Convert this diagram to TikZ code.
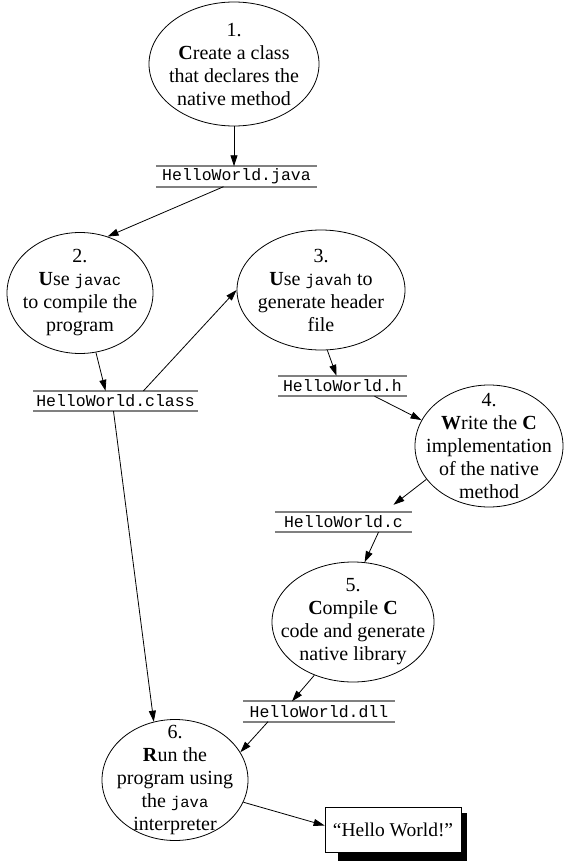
\documentclass[tikz,border=0pt]{standalone}
\usepackage{fontspec}
\setmainfont{Liberation Serif}
\setmonofont{Liberation Mono}
\usetikzlibrary{shapes.geometric,arrows.meta,backgrounds}
\newcommand{\prog}[1]{{\fontsize{15.5}{23}\selectfont\ttfamily #1}}

\begin{document}
\begin{tikzpicture}[x=1pt,y=-1pt,every text node part/.style={align=center},
stage/.style={ellipse,draw,line width=0.8pt,inner sep=-20pt,font=\fontsize{20}{23}\selectfont},
rule/.style={draw=black!50,line width=1.8pt},
source/.style={inner sep=0pt,minimum height=20pt,font=\fontsize{16.5}{20}\selectfont\ttfamily,append after command={(\tikzlastnode.north west) edge[rule] (\tikzlastnode.north east) (\tikzlastnode.south west) edge[rule] (\tikzlastnode.south east)}},
flow/.style={-{Triangle[length=11pt,width=7pt]},line width=0.8pt}]
\useasboundingbox (0,0) rectangle (565,867);
\node[stage,minimum width=170pt,minimum height=124pt] (e1) at (234,64) {1.\\\textbf{C}reate a class\\that declares the\\native method};
\node[source,minimum width=161pt] (javafile) at (236.5,176.5) {HelloWorld.java};
\node[stage,minimum width=146pt,minimum height=121pt] (e2) at (80,293) {2.\\\textbf{U}se \prog{javac}\\to compile the\\program};
\node[source,minimum width=165pt] (classfile) at (115.5,401) {HelloWorld.class};
\node[stage,minimum width=168pt,minimum height=120pt] (e3) at (321,290) {3.\\\textbf{U}se \prog{javah} to\\generate header\\file};
\node[source,minimum width=129pt] (hfile) at (342.5,386) {HelloWorld.h};
\node[stage,minimum width=148pt,minimum height=122pt] (e4) at (489,446) {4.\\\textbf{W}rite the \textbf{C}\\implementation\\of the native\\method};
\node[source,minimum width=137pt] (cfile) at (343.5,522) {HelloWorld.c};
\node[stage,minimum width=162pt,minimum height=120pt] (e5) at (353,622) {5.\\\textbf{C}ompile \textbf{C}\\code and generate\\native library};
\node[source,minimum width=152pt] (dllfile) at (319,711.5) {HelloWorld.dll};
\node[stage,minimum width=146pt,minimum height=121pt] (e6) at (175,780) {6.\\\textbf{R}un the\\program using\\the \prog{java}\\interpreter};
\node[draw,fill=white,line width=0.8pt,minimum width=136pt,minimum height=45pt,inner sep=0pt,font=\fontsize{19.5}{23}\selectfont] (hw) at (393,829.5) {``Hello World!''};
\begin{scope}[on background layer]
\fill ([shift={(13,9)}]hw.south west) rectangle ([shift={(6,6)}]hw.north east);
\end{scope}
\draw[flow] (e1.south) -- (e1.south |- javafile.north);
\draw[flow] ([xshift=-13pt]javafile.south) -- (e2.64);
\draw[flow] (e2.285) -- ([xshift=-10pt]classfile.north);
\draw[flow] ([xshift=28pt]classfile.north) -- (e3.west);
\draw[flow] (e3.276) -- ([xshift=-6pt]hfile.north);
\draw[flow] ([xshift=32pt]hfile.south) -- (e4.159);
\draw[flow] (e4.208) -- ([xshift=50pt,yshift=7pt]cfile.north);
\draw[flow] ([xshift=35pt]cfile.south) -- (e5.79);
\draw[flow] (e5.234) -- ([xshift=-27pt]dllfile.north);
\draw[flow] ([xshift=-51pt]dllfile.south) -- (e6.23);
\draw[flow] ([xshift=-2pt]classfile.south) -- (e6.110);
\draw[flow] (e6.-18) -- ([yshift=4pt]hw.west);
\end{tikzpicture}
\end{document}
